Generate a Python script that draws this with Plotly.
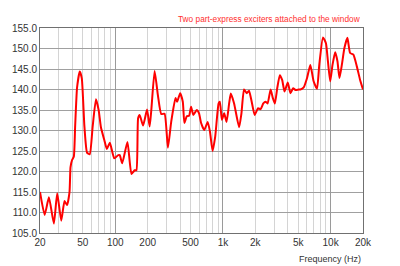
import plotly.graph_objects as go

freq_hz = [20, 22.1, 24.2, 26.9, 28.9, 31.5, 33.8, 35.7, 37.6, 38.4, 39.7, 41.2, 42.4, 44.2,
           46.8, 48.9, 51.7, 54.7, 57.9, 61.7, 66.2, 70.1, 73.6, 79.1, 83.6, 89.1, 97.9,
           106.6, 110, 116, 129.8, 141.4, 151.6, 157.2, 163, 168.6, 181.3, 197.4, 208.6,
           216.2, 232, 249.2, 267.4, 287, 308.4, 330.8, 362.6, 375.8, 400.6, 424, 438.8,
           461.8, 485, 506, 531.4, 571, 600, 626, 671, 722, 758, 802, 848, 912, 937, 978,
           1027, 1081, 1142, 1184, 1270, 1413, 1486, 1571, 1664, 1747, 1838, 1972, 2115,
           2240, 2373, 2492, 2600, 2772, 2910, 3036, 3194, 3376, 3554, 3732, 4002, 4240,
           4490, 4716, 5058, 5244, 5624, 6044, 6484, 6956, 7478, 7852, 8492, 9052, 9444,
           9920, 10420, 11030, 11580, 12090, 12720, 13440, 14330, 15180, 16280, 17500,
           18770, 20000]
level_db = [115.0, 109.4, 113.7, 107.3, 114.7, 108.0, 112.8, 111.8, 115.0, 121.0, 122.8,
            123.6, 131.0, 140.5, 144.4, 142.7, 131.0, 124.6, 124.2, 131.0, 137.6, 135.0,
            130.8, 127.7, 125.5, 127.0, 123.2, 124.0, 124.0, 122.0, 127.2, 119.4, 120.3,
            120.3, 133.0, 133.8, 131.2, 135.1, 131.0, 135.0, 144.5, 138.5, 134.0, 134.1,
            125.8, 132.1, 137.9, 137.0, 139.1, 137.0, 131.8, 133.5, 133.6, 135.8, 133.8,
            135.0, 134.2, 131.9, 130.1, 132.1, 129.7, 125.0, 128.5, 136.6, 137.0, 132.6,
            134.2, 132.1, 136.6, 139.0, 136.6, 130.8, 134.2, 140.0, 139.1, 139.7, 137.4,
            133.8, 135.4, 135.2, 136.6, 137.0, 136.6, 140.0, 137.9, 136.6, 140.3, 143.5,
            142.3, 139.5, 141.7, 139.1, 140.3, 139.9, 140.0, 140.0, 140.5, 142.8, 146.0,
            142.0, 140.2, 146.0, 152.7, 151.3, 146.9, 142.0, 146.0, 149.1, 146.9, 142.8,
            146.0, 150.1, 152.6, 148.9, 148.5, 145.7, 142.4, 140.0]

x_tick_vals = [20, 50, 100, 200, 500, 1000, 2000, 5000, 10000, 20000]
x_tick_text = ["20", "50", "100", "200", "500", "1k", "2k", "5k", "10k", "20k"]
x_minor_vals = [30, 40, 60, 70, 80, 90, 300, 400, 600, 700, 800, 900,
                3000, 4000, 6000, 7000, 8000, 9000]
x_major_vals = [100, 1000, 10000]
y_tick_vals = [105, 110, 115, 120, 125, 130, 135, 140, 145, 150, 155]

title_text = "Two part-express exciters attached to the window"
x_title = "Frequency (Hz)"

FONT = "Liberation Sans, Arial, sans-serif"

fig = go.Figure()
fig.add_trace(go.Scatter(
    x=freq_hz, y=level_db, mode="lines",
    line=dict(color="#ff0000", width=2, shape="spline", smoothing=0.5),
    showlegend=False, hoverinfo="skip",
))
# invisible trace to activate overlay axis for darker decade lines
fig.add_trace(go.Scatter(x=[20, 20000], y=[105, 105], xaxis="x2", mode="lines",
                         line=dict(width=0), showlegend=False, hoverinfo="skip"))

fig.update_layout(
    width=400, height=266,
    margin=dict(l=38, r=37, t=28, b=33),
    paper_bgcolor="white", plot_bgcolor="white",
    font=dict(family=FONT, size=10, color="#333333"),
    xaxis=dict(
        type="log", range=[1.30103, 4.30103],
        tickmode="array", tickvals=x_tick_vals, ticktext=x_tick_text,
        showgrid=True, gridcolor="#d4d4d4", gridwidth=1,
        minor=dict(tickmode="array", tickvals=x_minor_vals, showgrid=True,
                   gridcolor="#d4d4d4", gridwidth=1, ticks=""),
        showline=True, linecolor="#707070", linewidth=1, mirror=True,
        ticks="", zeroline=False, tickfont=dict(size=10, color="#333333"),
    ),
    xaxis2=dict(
        type="log", range=[1.30103, 4.30103], overlaying="x",
        tickmode="array", tickvals=x_major_vals, showticklabels=False,
        showgrid=True, gridcolor="#9a9a9a", gridwidth=1, ticks="",
        showline=False, zeroline=False,
    ),
    yaxis=dict(
        range=[105, 155], tickmode="array", tickvals=y_tick_vals,
        tickformat=".1f", showgrid=True, gridcolor="#a0a0a0", gridwidth=1,
        showline=True, linecolor="#707070", linewidth=1, mirror=True,
        ticks="", zeroline=False, tickfont=dict(size=10, color="#333333"),
    ),
    annotations=[
        dict(text=title_text, xref="paper", yref="paper", x=1.0, y=1.044,
             xanchor="right", yanchor="middle", showarrow=False,
             font=dict(family=FONT, size=8.3, color="#ff3030")),
        dict(text=x_title, xref="paper", yref="paper", x=1.0, y=-0.125,
             xanchor="right", yanchor="middle", showarrow=False,
             font=dict(family=FONT, size=9, color="#333333")),
    ],
)

fig.write_html("out.html")
